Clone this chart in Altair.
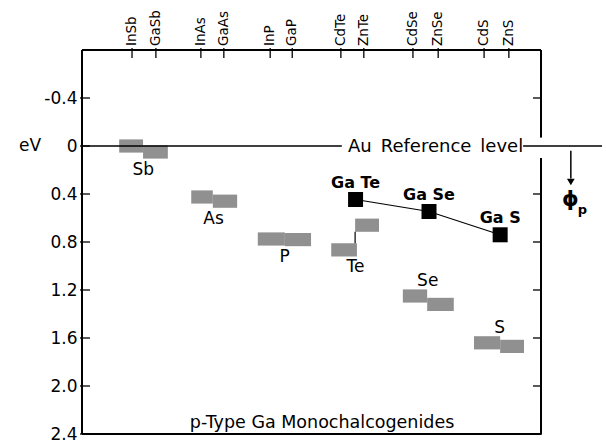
import altair as alt
import pandas as pd

# ---- data ----
compounds = ["InSb", "GaSb", "InAs", "GaAs", "InP", "GaP", "CdTe", "ZnTe", "CdSe", "ZnSe", "CdS", "ZnS"]
compound_pos = [10.9, 16.1, 25.9, 30.9, 41.0, 45.8, 56.4, 61.4, 72.1, 77.6, 87.6, 93.0]
bar_left = [8.1, 13.3, 23.8, 28.5, 38.3, 44.2, 54.3, 59.5, 69.9, 75.2, 85.4, 91.1]
bar_right = [13.3, 18.7, 28.5, 33.8, 44.2, 49.9, 59.9, 64.7, 75.2, 81.0, 91.1, 96.3]
bar_level = [0.0, 0.05, 0.425, 0.46, 0.775, 0.78, 0.865, 0.66, 1.25, 1.32, 1.64, 1.67]
anion = ["Sb", "Sb", "As", "As", "P", "P", "Te", "Te", "Se", "Se", "S", "S"]
anion_label_side = {"Sb": "below", "As": "below", "P": "below", "Te": "below", "Se": "above", "S": "above"}

ga_names = ["Ga Te", "Ga Se", "Ga S"]
ga_pos = [59.6, 75.6, 91.1]
ga_level = [0.446, 0.546, 0.74]

y_ticks = [-0.4, 0.0, 0.4, 0.8, 1.2, 1.6, 2.0, 2.4]
y_domain = [-0.8, 2.4]
x_domain = [0, 100]

FONT = "DejaVu Sans"
W, H = 459, 384
BAR_HALF = 0.055

xs = alt.Scale(domain=x_domain, nice=False, zero=False)
ys = alt.Scale(domain=y_domain, nice=False, zero=False, reverse=True)
yaxis = alt.Axis(
    values=y_ticks, title=None, domain=False, ticks=False, grid=False,
    labelFont=FONT, labelFontSize=17, labelColor="black", labelPadding=5,
    labelOverlap=False, labelFlush=False,
    labelExpr="datum.value < 0 ? '-' + format(-datum.value, '.1f') : (datum.value == 0 ? '0' : format(datum.value, '.1f'))",
)


def X(f):
    return alt.X(f, type="quantitative", scale=xs, axis=None)


def X2(f):
    return alt.X2(f)


def Y(f):
    return alt.Y(f, type="quantitative", scale=ys, axis=yaxis)


def Y2(f):
    return alt.Y2(f)


bars = pd.DataFrame({
    "compound": compounds, "left": bar_left, "right": bar_right,
    "level": bar_level, "anion": anion,
})
bars["top"] = bars["level"] - BAR_HALF
bars["bottom"] = bars["level"] + BAR_HALF

# anion labels placed from the bar pairs
grp = bars.groupby("anion", sort=False)
lab = pd.DataFrame({"anion": list(grp.groups.keys())})
lab["x"] = [((g["left"] + g["right"]) / 2).mean() for _, g in grp]
lab["side"] = lab["anion"].map(anion_label_side)
lab["y"] = [g["bottom"].max() if anion_label_side[a] == "below" else g["top"].min() for a, g in grp]

ga = pd.DataFrame({"name": ga_names, "x": ga_pos, "y": ga_level})
ticks_df = pd.DataFrame({"y": y_ticks})
comp_df = pd.DataFrame({"compound": compounds, "x": compound_pos})

# frame
frame = pd.DataFrame({
    "x": [0, 100, 0, 0], "x2": [0, 100, 100, 100],
    "y": [-0.8, -0.8, -0.8, 2.4], "y2": [2.4, 2.4, -0.8, 2.4],
})
frame_layer = alt.Chart(frame).mark_rule(color="black", strokeWidth=2).encode(
    x=X("x"), x2=X2("x2"), y=Y("y"), y2=Y2("y2"))

gap = pd.DataFrame({"x": [100], "y": [-0.07], "y2": [0.1]})
gap_layer = alt.Chart(gap).mark_rule(color="white", strokeWidth=5).encode(
    x=X("x"), y=Y("y"), y2=Y2("y2"))

# Au reference line (broken by its label)
ref_segments = pd.DataFrame({"x": [0, 96.1], "x2": [56.6, 113.3], "y": [0.0, 0.0]})
ref_layer = alt.Chart(ref_segments).mark_rule(color="black", strokeWidth=1.6).encode(
    x=X("x"), x2=X2("x2"), y=Y("y"))

ref_text = alt.Chart(pd.DataFrame({"x": [57.95], "y": [0.0], "t": ["Au\u2002Reference\u2002level"]})).mark_text(
    font=FONT, fontSize=18, align="left", baseline="middle", color="black", dy=1
).encode(x=X("x"), y=Y("y"), text="t:N")

# inward ticks
left_ticks = alt.Chart(ticks_df).mark_rule(color="black", strokeWidth=1.3).encode(
    x=alt.value(-2), x2=alt.value(8), y=Y("y"))
right_ticks = alt.Chart(ticks_df[ticks_df["y"] != 0]).mark_rule(color="black", strokeWidth=1.3).encode(
    x=alt.value(W - 8), x2=alt.value(W + 1), y=Y("y"))
top_ticks = alt.Chart(comp_df).mark_rule(color="black", strokeWidth=1.3).encode(
    x=X("x"), y=alt.value(-2), y2=alt.value(8))
top_labels = alt.Chart(comp_df).mark_text(
    font=FONT, fontSize=13.5, angle=270, align="left", baseline="middle", color="black"
).encode(x=X("x"), y=alt.value(-4), text="compound:N")

# shaded bars
bar_layer = alt.Chart(bars).mark_rect(color="#8a8a8a", opacity=0.95).encode(
    x=X("left"), x2=X2("right"), y=Y("top"), y2=Y2("bottom"))

# Te connector
te = bars[bars["anion"] == "Te"]
te_conn = pd.DataFrame({
    "x": [te["left"].max()],
    "y": [te["bottom"].min()], "y2": [te["top"].max()],
})
te_layer = alt.Chart(te_conn).mark_rule(color="black", strokeWidth=1.2).encode(
    x=X("x"), y=Y("y"), y2=Y2("y2"))

below = alt.Chart(lab[lab["side"] == "below"]).mark_text(
    font=FONT, fontSize=17, baseline="middle", color="black", dy=11
).encode(x=X("x"), y=Y("y"), text="anion:N")
above = alt.Chart(lab[lab["side"] == "above"]).mark_text(
    font=FONT, fontSize=17, baseline="middle", color="black", dy=-8
).encode(x=X("x"), y=Y("y"), text="anion:N")

# Ga monochalcogenides
ga_line = alt.Chart(ga).mark_line(color="black", strokeWidth=1.2).encode(x=X("x"), y=Y("y"))
ga_pts = alt.Chart(ga).mark_square(color="black", size=225, opacity=1).encode(x=X("x"), y=Y("y"))
ga_text = alt.Chart(ga).mark_text(
    font=FONT, fontSize=16, fontWeight="bold", baseline="middle", color="black", dy=-17
).encode(x=X("x"), y=Y("y"), text="name:N")

# phi_p arrow
arrow = pd.DataFrame({"x": [106.5], "y": [0.04], "y2": [0.27]})
arrow_shaft = alt.Chart(arrow).mark_rule(color="black", strokeWidth=1.5).encode(
    x=X("x"), y=Y("y"), y2=Y2("y2"))
arrow_head = alt.Chart(pd.DataFrame({"x": [106.5], "y": [0.3]})).mark_point(
    shape="triangle-down", filled=True, color="black", size=60, opacity=1
).encode(x=X("x"), y=Y("y"))
phi = alt.Chart(pd.DataFrame({"x": [106.4], "y": [0.45], "t": ["ϕ"]})).mark_text(
    font=FONT, fontSize=21, fontWeight="bold", baseline="middle", color="black"
).encode(x=X("x"), y=Y("y"), text="t:N")
phi_sub = alt.Chart(pd.DataFrame({"x": [108.0], "y": [0.53], "t": ["p"]})).mark_text(
    font=FONT, fontSize=13, fontWeight="bold", align="left", baseline="middle", color="black"
).encode(x=X("x"), y=Y("y"), text="t:N")

ev = alt.Chart(pd.DataFrame({"x": [-11.3], "y": [0.0], "t": ["eV"]})).mark_text(
    font=FONT, fontSize=17, baseline="middle", color="black"
).encode(x=X("x"), y=Y("y"), text="t:N")

caption = alt.Chart(pd.DataFrame({"x": [52.3], "y": [2.31], "t": ["p-Type Ga Monochalcogenides"]})).mark_text(
    font=FONT, fontSize=17.5, baseline="middle", color="black"
).encode(x=X("x"), y=Y("y"), text="t:N")

chart = alt.layer(
    bar_layer, frame_layer, gap_layer, ref_layer, ref_text,
    left_ticks, right_ticks, top_ticks, top_labels,
    te_layer, below, above, ga_line, ga_pts, ga_text,
    arrow_shaft, arrow_head, phi, phi_sub, ev, caption,
).properties(
    width=W, height=H,
    autosize=alt.AutoSizeParams(type="none"),
    padding={"left": 82, "top": 50, "right": 65, "bottom": 10},
    background="white",
).configure_view(strokeWidth=0)

chart.save("out.html", embed_options={"renderer": "svg", "actions": False})
